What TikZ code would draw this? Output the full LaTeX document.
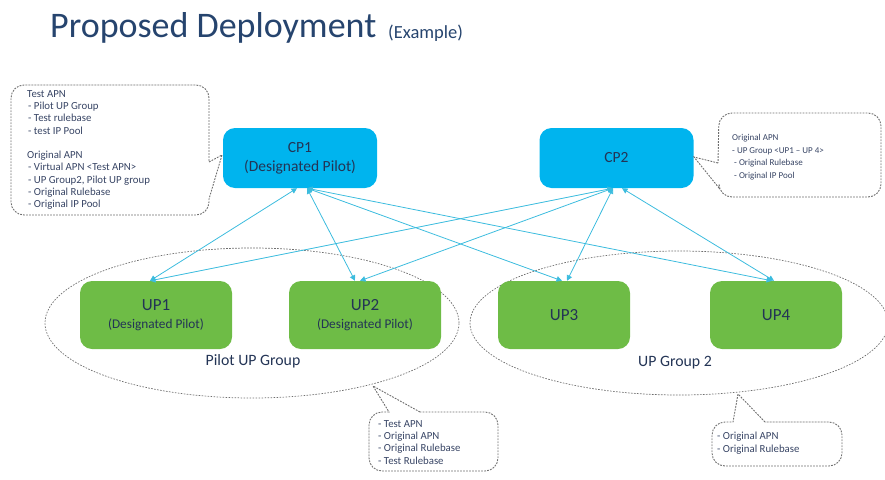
\documentclass[tikz,border=0pt]{standalone}
\usepackage{fontspec}
\setmainfont{Carlito}
\usetikzlibrary{arrows.meta}
\definecolor{titleblue}{RGB}{38,68,110}
\definecolor{nodetext}{RGB}{35,52,85}
\definecolor{calltext}{RGB}{55,68,100}
\definecolor{cpfill}{RGB}{0,180,238}
\definecolor{upfill}{RGB}{110,188,70}
\definecolor{linkc}{RGB}{60,188,222}
\definecolor{dashgray}{RGB}{110,110,110}
\tikzset{
  cpbox/.style={fill=cpfill, rounded corners=12pt, minimum width=154pt, minimum height=60pt, text=nodetext, align=center, inner sep=0pt},
  upbox/.style={fill=upfill, rounded corners=12pt, minimum width=152pt, minimum height=68pt, text=nodetext, align=center, inner sep=0pt},
  upboxs/.style={upbox, minimum width=132pt},
  link/.style={draw=linkc, line width=0.8pt, {Triangle[length=5.5pt,width=5.5pt]}-{Triangle[length=5.5pt,width=5.5pt]}},
  grp/.style={draw=dashgray, line width=0.7pt, dash pattern=on 1.6pt off 1.4pt},
  callout/.style={draw=dashgray, line width=0.9pt, dash pattern=on 1.8pt off 1.2pt},
  calltxt/.style={anchor=north west, align=left, inner sep=0pt, text=calltext, font=\fontsize{10.8}{12.3}\selectfont},
  grplabel/.style={text=nodetext, font=\fontsize{15.8}{18}\selectfont, inner sep=0pt}
}
\begin{document}
\begin{tikzpicture}[x=1pt,y=-1pt]
\useasboundingbox (0,0) rectangle (885,479);
% title
\node[anchor=base west, inner sep=0pt, text=titleblue, font=\fontsize{36}{40}\selectfont] (title) at (50,37) {Proposed Deployment};
\node[anchor=base west, inner sep=0pt, text=titleblue, font=\fontsize{18.5}{20}\selectfont] (example) at (388,38) {(Example)};
% group ellipses
\draw[grp] (252,323) ellipse [x radius=207pt, y radius=75pt];
\draw[grp] (679,323) ellipse [x radius=209pt, y radius=72pt];
\node[grplabel] (g1lab) at (253,361) {Pilot UP Group};
\node[grplabel] (g2lab) at (675,363) {UP Group 2};
% CP nodes
\node[cpbox, font=\fontsize{15.5}{19}\selectfont] (cp1) at (300,158) {CP1\\(Designated Pilot)};
\node[cpbox, font=\fontsize{15.5}{19}\selectfont] (cp2) at (616.5,158) {CP2};
% UP nodes
\node[upbox] (up1) at (156,315) {{\fontsize{17}{19}\selectfont UP1}\\[6pt]{\fontsize{13.3}{15}\selectfont (Designated Pilot)}};
\node[upbox] (up2) at (365,315) {{\fontsize{17}{19}\selectfont UP2}\\[6pt]{\fontsize{13.3}{15}\selectfont (Designated Pilot)}};
\node[upboxs, font=\fontsize{17}{19}\selectfont] (up3) at (564,315) {UP3};
\node[upboxs, font=\fontsize{17}{19}\selectfont] (up4) at (776,315) {UP4};
% links
\draw[link] ([xshift=-3pt]cp1.south) -- ([xshift=-6pt]up1.north);
\draw[link] ([xshift=7pt]cp1.south) -- ([xshift=-10pt]up2.north);
\draw[link] ([xshift=7pt]cp1.south) -- ([xshift=-2pt]up3.north);
\draw[link] ([xshift=7pt]cp1.south) -- ([xshift=-4pt]up4.north);
\draw[link] ([xshift=-3.5pt]cp2.south) -- ([xshift=-6pt]up1.north);
\draw[link] ([xshift=-3.5pt]cp2.south) -- ([xshift=-5pt]up2.north);
\draw[link] ([xshift=-3.5pt]cp2.south) -- ([xshift=3pt]up3.north);
\draw[link] ([xshift=5.5pt]cp2.south) -- ([xshift=-2pt]up4.north);
% callout 1
\draw[callout] (209,162) -- (222,155) -- (209,199) [rounded corners=13pt] -- (209,215) -- (11,215) -- (11,85) -- (209,85) -- (209,162);
\node[calltxt] (c1) at (27,90) {Test APN\\
\hspace{1pt}- Pilot UP Group\\
\hspace{1pt}- Test rulebase\\
\hspace{1pt}- test IP Pool\\[12.3pt]
Original APN\\
\hspace{1pt}- Virtual APN <Test APN>\\
\hspace{1pt}- UP Group2, Pilot UP group\\
\hspace{1pt}- Original Rulebase\\
\hspace{1pt}- Original IP Pool};
% callout 2
\draw[callout] (718,163) -- (694,157) -- (719,188) [rounded corners=13pt] -- (719,197) -- (881,197) -- (881,113) -- (719,113) -- (718,163);
\node[calltxt, font=\fontsize{9}{12.6}\selectfont] (c2) at (732,134) {Original APN\\
- UP Group <UP1 -- UP 4>\\
\hspace{2pt}- Original Rulebase\\
\hspace{2pt}- Original IP Pool};
% callout 3
\draw[callout] (420,412) -- (373,386) -- (389,412) [rounded corners=13pt] -- (369,412) -- (369,471) -- (498,471) -- (498,412) -- (420,412);
\node[calltxt] (c3) at (378,420) {- Test APN\\
- Original APN\\
- Original Rulebase\\
- Test Rulebase};
% callout 4
\draw[callout] (765,422) -- (738,394) -- (733,422) [rounded corners=13pt] -- (712,422) -- (712,466) -- (842,466) -- (842,422) -- (765,422);
\node[calltxt] (c4) at (717,432) {- Original APN\\
- Original Rulebase};
\end{tikzpicture}
\end{document}
